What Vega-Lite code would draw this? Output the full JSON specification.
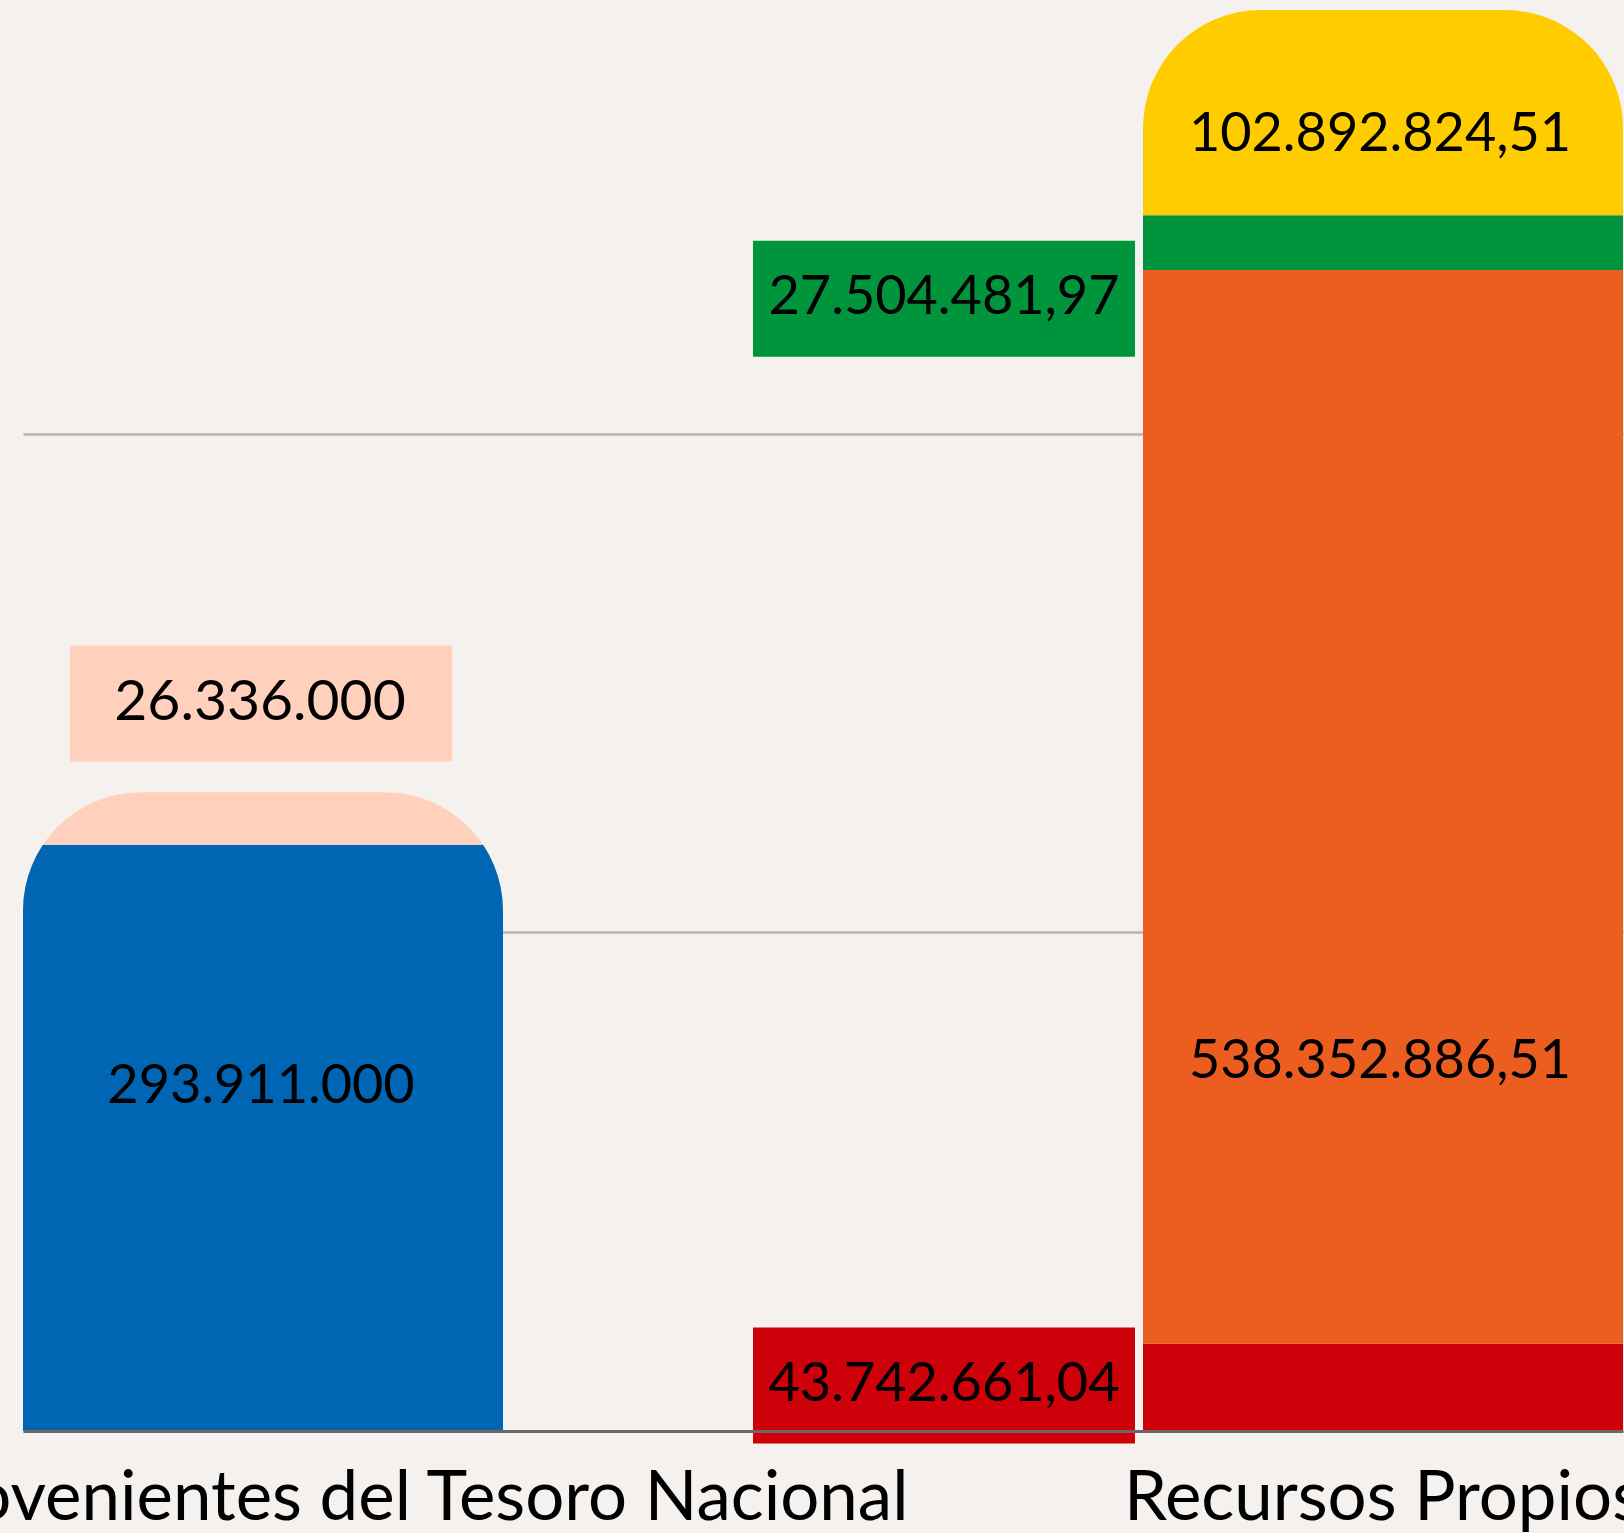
{
  "$schema": "https://vega.github.io/schema/vega-lite/v6.json",
  "width": 1600,
  "height": 1421,
  "autosize": {"type": "none"},
  "padding": {"left": 23, "top": 10, "right": 1, "bottom": 102},
  "background": "#f5f1ee",
  "config": {
    "view": {"stroke": null},
    "font": "Lato",
    "locale": {"number": {"decimal": ",", "thousands": ".", "grouping": [3], "currency": ["$", ""]}}
  },
  "data": {
    "values": [
      {"fuente": "Recursos Provenientes del Tesoro Nacional", "segmento": "Tesoro A", "orden": 1, "valor": 293911000},
      {"fuente": "Recursos Provenientes del Tesoro Nacional", "segmento": "Tesoro B", "orden": 2, "valor": 26336000},
      {"fuente": "Recursos Propios", "segmento": "Propios A", "orden": 1, "valor": 43742661.04},
      {"fuente": "Recursos Propios", "segmento": "Propios B", "orden": 2, "valor": 538352886.51},
      {"fuente": "Recursos Propios", "segmento": "Propios C", "orden": 3, "valor": 27504481.97},
      {"fuente": "Recursos Propios", "segmento": "Propios D", "orden": 4, "valor": 102892824.51}
    ]
  },
  "transform": [
    {"stack": "valor", "groupby": ["fuente"], "sort": [{"field": "orden", "order": "ascending"}], "as": ["v0", "v1"]},
    {"calculate": "(datum.v0 + datum.v1) / 2", "as": "mid"},
    {"joinaggregate": [{"op": "max", "field": "v1", "as": "total"}], "groupby": ["fuente"]}
  ],
  "encoding": {
    "x": {
      "field": "fuente",
      "type": "nominal",
      "sort": ["Recursos Provenientes del Tesoro Nacional", "Recursos Propios"],
      "scale": {"paddingInner": 0.5714286, "paddingOuter": 0},
      "axis": {
        "title": null,
        "ticks": false,
        "tickSize": 0,
        "labelAngle": 0,
        "labelFont": "Lato",
        "labelFontSize": 69,
        "labelColor": "#000000",
        "labelPadding": 33,
        "labelLimit": 3000,
        "labelOverlap": false,
        "domainColor": "#6b6866",
        "domainWidth": 3,
        "zindex": 1
      }
    }
  },
  "layer": [
    {
      "mark": {"type": "bar"},
      "encoding": {
        "y": {
          "field": "v1",
          "type": "quantitative",
          "scale": {"zero": true, "nice": false},
          "axis": {"title": null, "grid": true, "values": [250000000, 500000000], "gridColor": "#bab5b1", "gridWidth": 2.5, "domain": false, "ticks": false, "labels": false}
        },
        "y2": {"field": "v0"},
        "color": {
          "field": "segmento",
          "type": "nominal",
          "scale": {
            "domain": ["Tesoro A", "Tesoro B", "Propios A", "Propios B", "Propios C", "Propios D"],
            "range": ["#0066b4", "#ffd1bc", "#ce000a", "#ec5d20", "#00953d", "#ffcc00"]
          },
          "legend": null
        }
      }
    },
    {
      "transform": [{"filter": "datum.v1 == datum.total"}],
      "mark": {"type": "arc", "theta": -1.5707963, "theta2": 0, "radius": 178, "radius2": 118, "color": "#f5f1ee", "xOffset": -122, "yOffset": 118},
      "encoding": {"y": {"field": "v1", "type": "quantitative"}}
    },
    {
      "transform": [{"filter": "datum.v1 == datum.total"}],
      "mark": {"type": "arc", "theta": 0, "theta2": 1.5707963, "radius": 178, "radius2": 118, "color": "#f5f1ee", "xOffset": 122, "yOffset": 118},
      "encoding": {"y": {"field": "v1", "type": "quantitative"}}
    },
    {
      "transform": [{"filter": "datum.segmento == 'Propios C'"}],
      "mark": {"type": "point", "shape": "M-1,-0.30366H1V0.30366H-1Z", "size": 145924, "filled": true, "opacity": 1, "strokeWidth": 0, "xOffset": -439, "yOffset": 56},
      "encoding": {"y": {"field": "mid", "type": "quantitative"}, "color": {"field": "segmento", "type": "nominal", "legend": null}}
    },
    {
      "transform": [{"filter": "datum.segmento == 'Propios A'"}],
      "mark": {"type": "point", "shape": "M-1,-0.30366H1V0.30366H-1Z", "size": 145924, "filled": true, "opacity": 1, "strokeWidth": 0, "xOffset": -439, "yOffset": -2},
      "encoding": {"y": {"field": "mid", "type": "quantitative"}, "color": {"field": "segmento", "type": "nominal", "legend": null}}
    },
    {
      "transform": [{"filter": "datum.segmento == 'Tesoro B'"}],
      "mark": {"type": "point", "shape": "M-1,-0.30366H1V0.30366H-1Z", "size": 145924, "filled": true, "opacity": 1, "strokeWidth": 0, "xOffset": -2, "yOffset": -115},
      "encoding": {"y": {"field": "mid", "type": "quantitative"}, "color": {"field": "segmento", "type": "nominal", "legend": null}}
    },
    {
      "transform": [{"filter": "datum.segmento == 'Propios D'"}],
      "mark": {"type": "text", "font": "Lato", "fontSize": 54, "color": "#000000", "align": "center", "baseline": "middle", "dx": -3, "dy": 22},
      "encoding": {"y": {"field": "mid", "type": "quantitative"}, "text": {"field": "valor", "type": "quantitative", "format": ",.2f"}}
    },
    {
      "transform": [{"filter": "datum.segmento == 'Propios B'"}],
      "mark": {"type": "text", "font": "Lato", "fontSize": 54, "color": "#000000", "align": "center", "baseline": "middle", "dx": -3, "dy": 255},
      "encoding": {"y": {"field": "mid", "type": "quantitative"}, "text": {"field": "valor", "type": "quantitative", "format": ",.2f"}}
    },
    {
      "transform": [{"filter": "datum.segmento == 'Tesoro A'"}],
      "mark": {"type": "text", "font": "Lato", "fontSize": 54, "color": "#000000", "align": "center", "baseline": "middle", "dx": -2, "dy": -51},
      "encoding": {"y": {"field": "mid", "type": "quantitative"}, "text": {"field": "valor", "type": "quantitative", "format": ",.0f"}}
    },
    {
      "transform": [{"filter": "datum.segmento == 'Propios C'"}],
      "mark": {"type": "text", "font": "Lato", "fontSize": 54, "color": "#000000", "align": "center", "baseline": "middle", "dx": -439, "dy": 55},
      "encoding": {"y": {"field": "mid", "type": "quantitative"}, "text": {"field": "valor", "type": "quantitative", "format": ",.2f"}}
    },
    {
      "transform": [{"filter": "datum.segmento == 'Propios A'"}],
      "mark": {"type": "text", "font": "Lato", "fontSize": 54, "color": "#000000", "align": "center", "baseline": "middle", "dx": -439, "dy": -2},
      "encoding": {"y": {"field": "mid", "type": "quantitative"}, "text": {"field": "valor", "type": "quantitative", "format": ",.2f"}}
    },
    {
      "transform": [{"filter": "datum.segmento == 'Tesoro B'"}],
      "mark": {"type": "text", "font": "Lato", "fontSize": 57, "color": "#000000", "align": "center", "baseline": "middle", "dx": -3, "dy": -116},
      "encoding": {"y": {"field": "mid", "type": "quantitative"}, "text": {"field": "valor", "type": "quantitative", "format": ",.0f"}}
    }
  ]
}
